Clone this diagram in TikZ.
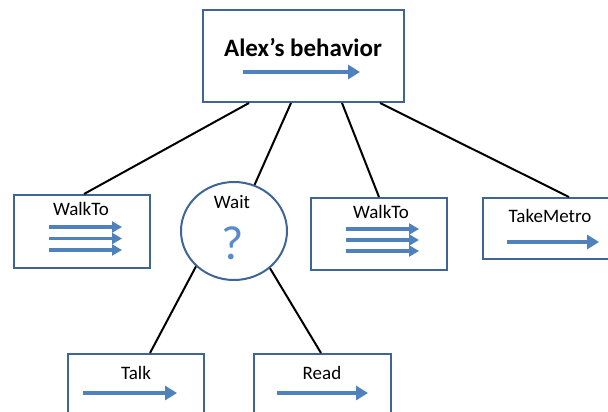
\documentclass[tikz,border=0pt]{standalone}
\usepackage{fontspec}
\setmainfont{Carlito}
\usetikzlibrary{arrows.meta,shapes.geometric}
\definecolor{boxblue}{HTML}{3E6596}
\definecolor{arrblue}{HTML}{4F81BD}
\definecolor{qblue}{HTML}{5A8ACB}
\begin{document}
\begin{tikzpicture}[x=1pt,y=-1pt,
  actbox/.style={draw=boxblue, line width=2pt, fill=white, rectangle, inner sep=0pt},
  waitnode/.style={draw=boxblue, line width=2pt, fill=white, ellipse, inner sep=0pt, minimum width=106pt, minimum height=98pt},
  lbl/.style={font=\fontsize{19}{22}\selectfont, inner sep=0pt, text=black},
  titlelbl/.style={font=\fontsize{25}{30}\selectfont\bfseries, inner sep=0pt, text=black},
  qlbl/.style={font=\fontsize{48}{52}\selectfont, inner sep=0pt, text=qblue},
  bigarrow/.style={draw=arrblue, line width=3.8pt, -{Triangle[length=12pt,width=14pt]}},
  smallarrow/.style={draw=arrblue, line width=3.2pt, -{Triangle[length=10pt,width=11pt]}},
  link/.style={draw=black, line width=2pt}]
\useasboundingbox (0,0) rectangle (608,412);
\clip (0,0) rectangle (608,412);

% boxes
\node[actbox, minimum width=201pt, minimum height=92pt] (top) at (303.5,56) {};
\node[actbox, minimum width=136pt, minimum height=73pt] (w1) at (82,231.5) {};
\node[waitnode] (wait) at (234,231) {};
\node[actbox, minimum width=136pt, minimum height=72pt] (w2) at (379,234) {};
\node[actbox, minimum width=140pt, minimum height=61pt] (tm) at (553,228.5) {};
\node[actbox, minimum width=136pt, minimum height=90pt] (talk) at (136,399) {};
\node[actbox, minimum width=137pt, minimum height=90pt] (read) at (322.5,399) {};

% connectors
\draw[link] ([xshift=47pt]top.south west) -- ([xshift=71pt]w1.north west);
\draw[link] ([xshift=89pt]top.south west) -- (wait);
\draw[link] ([xshift=140pt]top.south west) -- ([xshift=69pt]w2.north west);
\draw[link] ([xshift=178pt]top.south west) -- ([xshift=87pt]tm.north west);
\draw[link] (wait.223) -- ([xshift=83pt]talk.north west);
\draw[link] (wait.314) -- ([xshift=68pt]read.north west);

% labels
\node[titlelbl] (ttl) at (303,47) {Alex’s behavior};
\node[lbl] (l1) at (81,209) {WalkTo};
\node[lbl] (lw) at (232,202) {Wait};
\node[qlbl] (lq) at (233,243) {?};
\node[lbl] (l2) at (381,212) {WalkTo};
\node[lbl] (l3) at (550,216) {TakeMetro};
\node[lbl] (l4) at (136,373) {Talk};
\node[lbl] (l5) at (322,373) {Read};

% arrow icons
\coordinate (a0s) at (243,72); \coordinate (a0e) at (360,72);
\draw[bigarrow] (a0s) -- (a0e);
\foreach \yy [count=\i] in {227,238.5,250}{
  \coordinate (w1s\i) at (49,\yy); \coordinate (w1e\i) at (122,\yy);
  \draw[smallarrow] (w1s\i) -- (w1e\i);
}
\foreach \yy [count=\i] in {229,240,251}{
  \coordinate (w2s\i) at (346,\yy); \coordinate (w2e\i) at (419,\yy);
  \draw[smallarrow] (w2s\i) -- (w2e\i);
}
\coordinate (tms) at (507,242); \coordinate (tme) at (599,242);
\draw[bigarrow] (tms) -- (tme);
\coordinate (tks) at (83,393); \coordinate (tke) at (177,393);
\draw[bigarrow] (tks) -- (tke);
\coordinate (rds) at (277,393); \coordinate (rde) at (368,393);
\draw[bigarrow] (rds) -- (rde);
\end{tikzpicture}
\end{document}
